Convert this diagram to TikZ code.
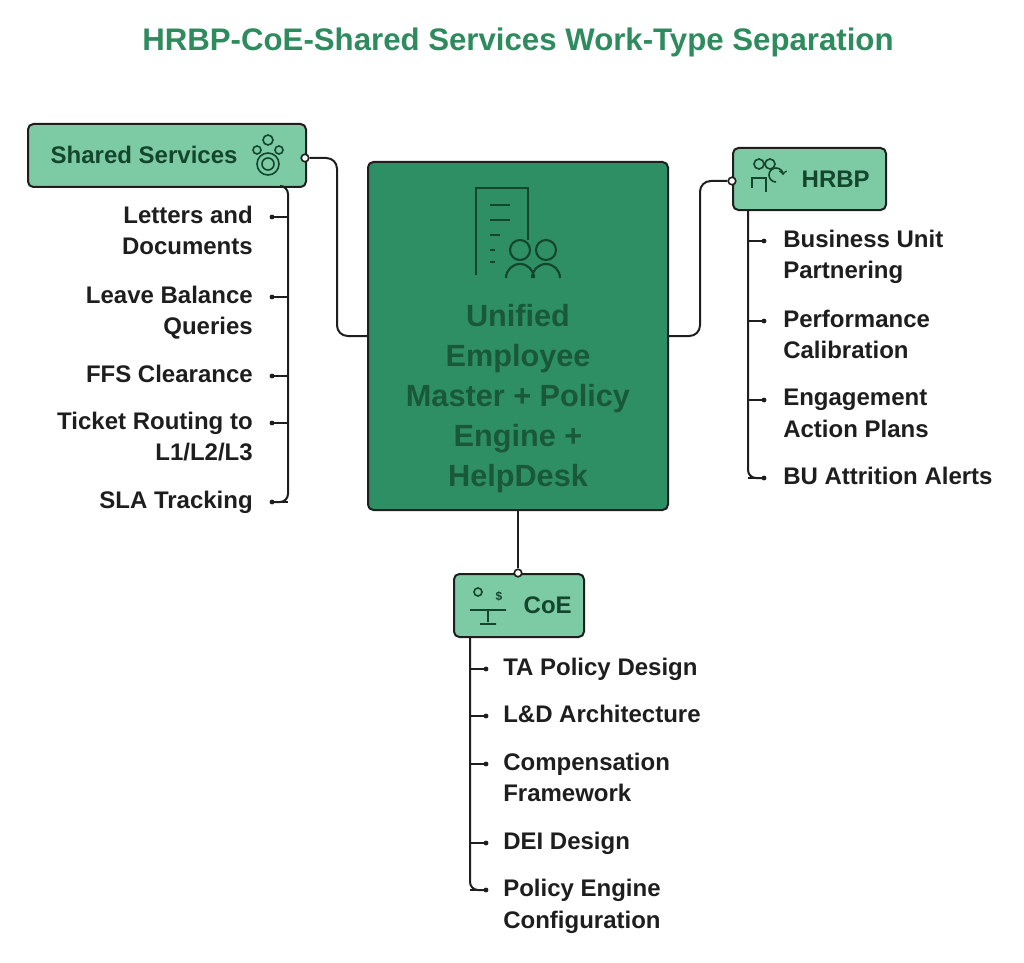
\documentclass[tikz,border=0pt]{standalone}
\usepackage{fontspec}
\setmainfont{Liberation Sans}
\usetikzlibrary{positioning}
\definecolor{ttl}{RGB}{46,139,94}
\definecolor{dark}{RGB}{30,30,30}
\definecolor{hub}{RGB}{46,143,100}
\definecolor{hubtxt}{RGB}{26,88,58}
\definecolor{lite}{RGB}{124,203,164}
\definecolor{boxtxt}{RGB}{20,70,45}
\tikzset{
  grp/.style={draw=dark, line width=1.5pt, fill=lite, rounded corners=4pt, anchor=north west},
  item/.style={font=\bfseries\fontsize{18}{23.5}\selectfont, text=dark, align=left, inner sep=0pt},
  itemr/.style={item, align=right, anchor=north east},
  iteml/.style={item, anchor=north west},
  wire/.style={draw=dark, line width=1.5pt, rounded corners=8pt},
  knob/.style={circle, draw=dark, fill=white, line width=1.2pt, inner sep=2pt},
  tick/.style={fill=dark, circle, inner sep=1.3pt},
  ico/.style={draw=boxtxt, line width=1.2pt}
}
\begin{document}
\begin{tikzpicture}[x=0.75pt, y=-0.75pt]
\useasboundingbox (0,0) rectangle (1024,963);
% title
\node (title) at (518,42) {\color{ttl}\bfseries\fontsize{23.4}{28}\selectfont HRBP-CoE-Shared Services Work-Type Separation};
% hub
\draw[draw=dark, line width=1.5pt, fill=hub, rounded corners=4pt] (368,162) rectangle (668,510);
\node[font=\bfseries\fontsize{23}{30}\selectfont, text=hubtxt, align=center, anchor=north] (hubtxt) at (518,300)
  {Unified\\Employee\\Master + Policy\\Engine +\\HelpDesk};
% hub icon
\draw[ico, line width=1.6pt] (476,275) -- (476,188) -- (528,188) -- (528,240);
\foreach \yy/\xx in {205/510, 220/510, 235/500, 250/495, 262/495} \draw[ico, line width=1.6pt] (490,\yy) -- (\xx,\yy);
\draw[ico, line width=1.6pt] (520,250) circle (10) (546,250) circle (10);
\draw[ico, line width=1.6pt] (506,278) arc (180:360:14 and 14) (532,278) arc (180:360:14 and 14);
% shared services
\node[grp, minimum width=278*0.75pt, minimum height=63*0.75pt] (ss) at (27,123) {};
\node[font=\bfseries\fontsize{18}{20}\selectfont, text=boxtxt, anchor=west] at (46,155) {Shared Services};
\draw[ico] (268,140) circle (5) (257,150) circle (4) (279,150) circle (4) (268,164) circle (6) (268,164) circle (11);
\node[knob] (ssk) at (305,158) {};
\draw[wire] (ssk) -- (337,158) -- (337,336) -- (368,336);
\draw[wire, rounded corners=6pt] (280,186) -- (288,186) -- (288,502) -- (272,502);
\foreach \yy/\t in {217/{Letters and\\Documents}, 297/{Leave Balance\\Queries}, 376/{FFS Clearance}, 423/{Ticket Routing to\\L1/L2/L3}, 502/{SLA Tracking}}{
  \node[tick] at (272,\yy) {};
  \draw[wire] (272,\yy) -- (288,\yy);
  \node[itemr] at (253,\yy-11) {\t};
}
% HRBP
\node[grp, minimum width=153*0.75pt, minimum height=62*0.75pt] (hrbp) at (732,147) {};
\node[font=\bfseries\fontsize{18}{20}\selectfont, text=boxtxt, anchor=west] at (797,179) {HRBP};
\draw[ico] (759,164) circle (5) (770,164) circle (5) (752,188) -- (752,178) -- (766,178) -- (766,192);
\draw[ico, ->] (776,182) arc (90:360:7);
\node[knob] (hrk) at (732,181) {};
\draw[wire] (hrk) -- (700,181) -- (700,336) -- (668,336);
\draw[wire, rounded corners=6pt] (748,209) -- (748,478) -- (764,478);
\foreach \yy/\t in {241/{Business Unit\\Partnering}, 321/{Performance\\Calibration}, 400/{Engagement\\Action Plans}, 478/{BU Attrition Alerts}}{
  \node[tick] at (764,\yy) {};
  \draw[wire] (748,\yy) -- (764,\yy);
  \node[iteml] at (783,\yy-11) {\t};
}
% CoE
\node[grp, minimum width=130*0.75pt, minimum height=63*0.75pt] (coe) at (453,573) {};
\node[font=\bfseries\fontsize{18}{20}\selectfont, text=boxtxt, anchor=west] at (519,605) {CoE};
\draw[ico] (478,592) circle (4) (470,610) -- (506,610) (488,610) -- (488,622) (480,624) -- (496,624);
\node[font=\bfseries\small, text=boxtxt] at (499,596) {\$};
\node[knob] (coek) at (518,573) {};
\draw[wire] (coek) -- (518,510);
\draw[wire, rounded corners=6pt] (470,636) -- (470,890) -- (486,890);
\foreach \yy/\t in {669/{TA Policy Design}, 716/{L\&D Architecture}, 764/{Compensation\\Framework}, 843/{DEI Design}, 890/{Policy Engine\\Configuration}}{
  \node[tick] at (486,\yy) {};
  \draw[wire] (470,\yy) -- (486,\yy);
  \node[iteml] at (503,\yy-11) {\t};
}
\end{tikzpicture}
\end{document}
